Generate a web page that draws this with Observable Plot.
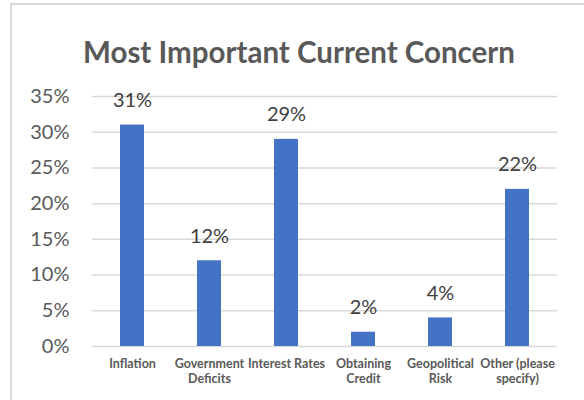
<!DOCTYPE html>
<html>
<head>
<meta charset="utf-8">
<script src="https://cdn.jsdelivr.net/npm/d3@7"></script>
<script src="https://cdn.jsdelivr.net/npm/@observablehq/plot@0.6"></script>
<style>
  body { margin: 0; background: #fff; font-family: Lato, "Open Sans", sans-serif; }
  #wrap { position: relative; width: 584px; height: 400px; overflow: hidden; }
  #frame { position: absolute; left: 10px; top: 3px; width: 600px; height: 420px;
           border-top: 2px solid #d9d9d9; border-left: 2px solid #d9d9d9; pointer-events: none; }
  #title { position: absolute; left: 0; top: 0; width: 598px; height: 80px; text-align: center;
           font: bold 29.5px Lato, sans-serif; color: #595959; line-height: 1; padding-top: 37px; box-sizing: border-box; }
  #chart { position: absolute; left: 0; top: 80px; }
</style>
</head>
<body>
<div id="wrap">
  <div id="title">Most Important Current Concern</div>
  <div id="chart"></div>
  <div id="frame"></div>
</div>
<script>
const categories = ["Inflation", "Government Deficits", "Interest Rates", "Obtaining Credit", "Geopolitical Risk", "Other (please specify)"];
const tickLabels = ["Inflation", "Government\nDeficits", "Interest Rates", "Obtaining\nCredit", "Geopolitical\nRisk", "Other (please\nspecify)"];
const values = [31, 12, 29, 2, 4, 22];
const yTicks = [0, 5, 10, 15, 20, 25, 30, 35];

const data = categories.map((c, i) => ({category: c, value: values[i]}));
const labelOf = new Map(categories.map((c, i) => [c, tickLabels[i]]));

const plot = Plot.plot({
  width: 584,
  height: 320,
  marginLeft: 92,
  marginRight: 27,
  marginTop: 16,
  marginBottom: 54,
  style: {fontFamily: "Lato, sans-serif", background: "transparent", overflow: "visible"},
  x: {domain: categories, paddingInner: 0.69, paddingOuter: 0.345, label: null},
  y: {domain: [0, 35], label: null},
  marks: [
    Plot.gridY(yTicks, {stroke: "#d9d9d9", strokeOpacity: 1, strokeWidth: 1.5}),
    Plot.axisY(yTicks, {tickSize: 0, tickPadding: 23, tickFormat: d => d + "%", fontSize: 20, fill: "#595959"}),
    Plot.axisX({tickSize: 0, tickPadding: 10, tickFormat: d => labelOf.get(d), fontSize: 12.5, fontWeight: "bold", fill: "#595959", lineHeight: 1.25}),
    Plot.barY(data, {x: "category", y: "value", fill: "#4472C4"}),
    Plot.text(data, {x: "category", y: "value", text: d => d.value + "%", lineAnchor: "bottom", dy: -18, fontSize: 20, fill: "#404040"})
  ]
});
document.getElementById("chart").appendChild(plot);
</script>
</body>
</html>
